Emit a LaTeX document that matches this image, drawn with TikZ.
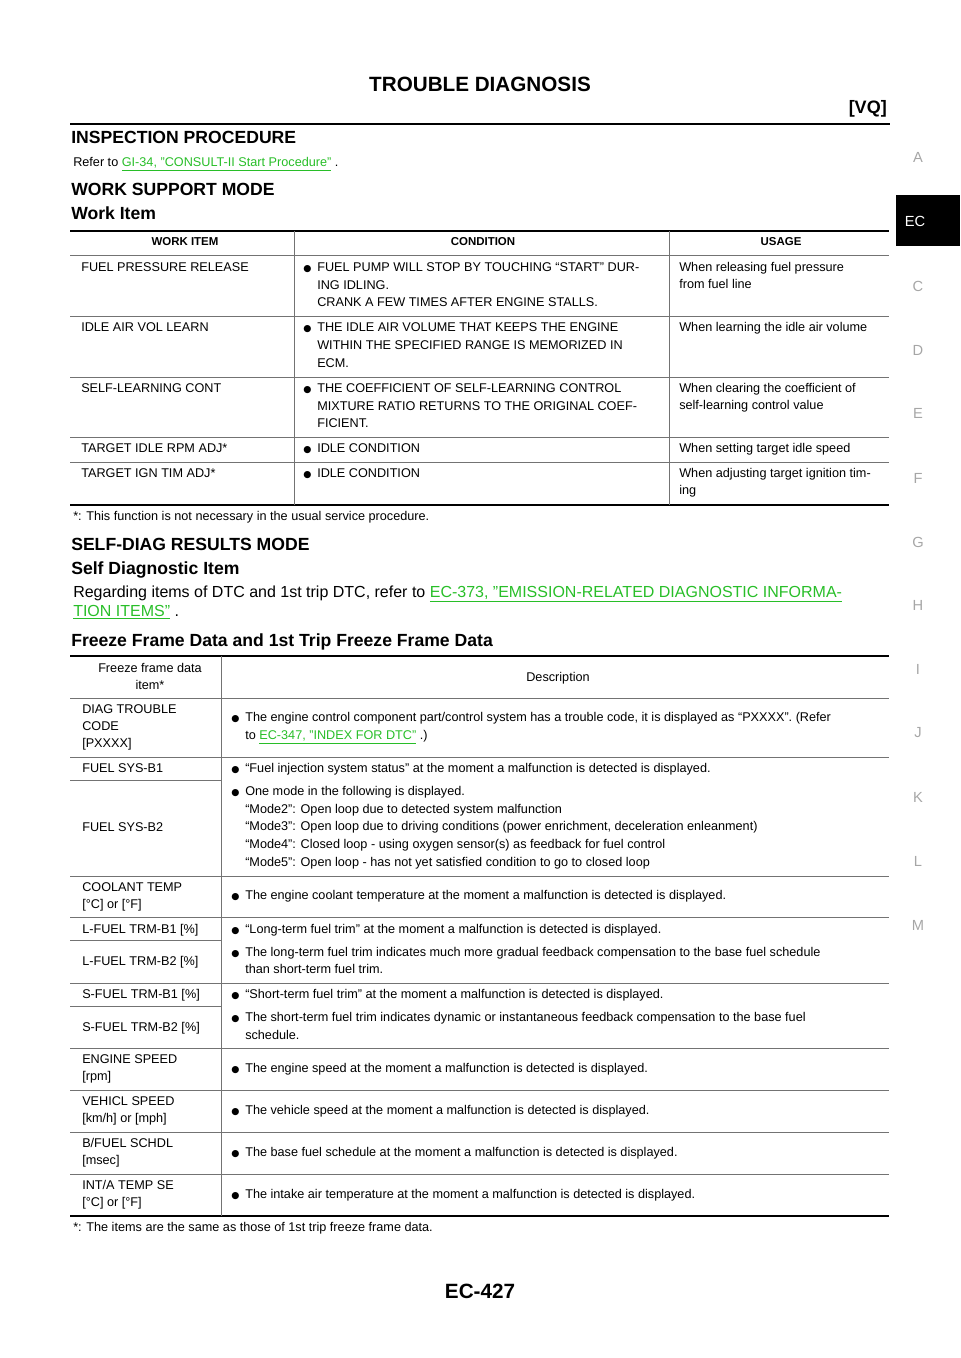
\documentclass[tikz,border=0pt]{standalone}
\usepackage{fontspec}
\setmainfont{Liberation Sans}
\newfontfamily\symfont{DejaVu Sans}
\definecolor{linkgreen}{RGB}{40,190,40}
\definecolor{rulegray}{gray}{0.45}
\tikzset{
	txt/.style={anchor=base west, inner sep=0pt, font=\fontsize{9.5}{12}\selectfont},
	hdr/.style={anchor=base, inner sep=0pt, font=\fontsize{8.6}{11}\selectfont\bfseries},
	sect/.style={anchor=base west, inner sep=0pt, font=\fontsize{13.2}{15}\selectfont\bfseries},
	thin/.style={draw=rulegray, line width=0.5pt},
	thick/.style={draw=black, line width=1.6pt},
	tab/.style={anchor=center, inner sep=0pt, font=\fontsize{11}{13}\selectfont, text=gray!70}
}
\newcommand{\tl}[4]{\node[txt] (#1) at (#2,#3+4.6) {#4};}
\newcommand{\bl}[4]{\node[txt] (#1) at (#2-14,#3+4.6) {{\symfont\fontsize{7}{9}\selectfont ●}};
  \node[txt] (#1t) at (#2,#3+4.6) {#4};}
\newcommand{\lnk}[1]{\textcolor{linkgreen}{\underline{#1}}}

\begin{document}
\begin{tikzpicture}[x=0.75pt,y=-0.75pt]
\useasboundingbox (0,0) rectangle (960,1358);

% page head
\node[anchor=base, inner sep=0pt, font=\fontsize{15.5}{18}\selectfont\bfseries] (title) at (480,92) {TROUBLE DIAGNOSIS};
\node[anchor=base east, inner sep=0pt, font=\fontsize{13.5}{16}\selectfont\bfseries] (vq) at (887,114) {[VQ]};
\draw[line width=2pt] (70,124) -- (890,124);

% side tabs
\fill[black] (896,195) rectangle (960,246);
\node[tab, text=white] (ec) at (915,221) {EC};
\foreach \l/\yy in {A/157,C/286,D/350,E/413,F/478,G/542,H/605,I/669,J/733,K/797,L/861,M/925}
  \node[tab] (tab\l) at (918,\yy) {\l};

% inspection
\node[sect] (insp) at (71,144) {INSPECTION PROCEDURE};
\tl{refer}{73}{162}{Refer to \lnk{GI-34, "CONSULT-II Start Procedure"} .}
\node[sect] (wsm) at (71,196) {WORK SUPPORT MODE};
\node[sect] (wi) at (71,220) {Work Item};

% table 1
\draw[thick] (70,231) -- (889,231);
\draw[thin] (70,255) -- (889,255);
\foreach \yy in {316,377,437,462} \draw[thin] (70,\yy) -- (889,\yy);
\draw[thick] (70,505) -- (889,505);
\draw[thin] (294,231) -- (294,505);
\draw[thin] (669,231) -- (669,505);
\node[hdr] (h1) at (185,246) {WORK ITEM};
\node[hdr] (h2) at (483,246) {CONDITION};
\node[hdr] (h3) at (781,246) {USAGE};

\tl{a1}{81}{267}{FUEL PRESSURE RELEASE}
\bl{b1}{317}{267}{FUEL PUMP WILL STOP BY TOUCHING “START” DUR-}
\tl{b1a}{317}{285}{ING IDLING.}
\tl{b1b}{317}{302}{CRANK A FEW TIMES AFTER ENGINE STALLS.}
\tl{c1}{679}{267}{When releasing fuel pressure}
\tl{c1a}{679}{284}{from fuel line}

\tl{a2}{81}{327}{IDLE AIR VOL LEARN}
\bl{b2}{317}{327}{THE IDLE AIR VOLUME THAT KEEPS THE ENGINE}
\tl{b2a}{317}{345}{WITHIN THE SPECIFIED RANGE IS MEMORIZED IN}
\tl{b2b}{317}{363}{ECM.}
\tl{c2}{679}{327}{When learning the idle air volume}

\tl{a3}{81}{388}{SELF-LEARNING CONT}
\bl{b3}{317}{388}{THE COEFFICIENT OF SELF-LEARNING CONTROL}
\tl{b3a}{317}{406}{MIXTURE RATIO RETURNS TO THE ORIGINAL COEF-}
\tl{b3b}{317}{423}{FICIENT.}
\tl{c3}{679}{388}{When clearing the coefficient of}
\tl{c3a}{679}{405}{self-learning control value}

\tl{a4}{81}{448}{TARGET IDLE RPM ADJ*}
\bl{b4}{317}{448}{IDLE CONDITION}
\tl{c4}{679}{448}{When setting target idle speed}

\tl{a5}{81}{473}{TARGET IGN TIM ADJ*}
\bl{b5}{317}{473}{IDLE CONDITION}
\tl{c5}{679}{473}{When adjusting target ignition tim-}
\tl{c5a}{679}{490}{ing}

\tl{fn1}{73}{516}{*: This function is not necessary in the usual service procedure.}

% self-diag
\node[sect] (sdr) at (71,550) {SELF-DIAG RESULTS MODE};
\node[sect] (sdi) at (71,574) {Self Diagnostic Item};
\node[anchor=base west, inner sep=0pt, font=\fontsize{12}{14}\selectfont] (reg1) at (73,597) {Regarding items of DTC and 1st trip DTC, refer to \lnk{EC-373, "EMISSION-RELATED DIAGNOSTIC INFORMA-}};
\node[anchor=base west, inner sep=0pt, font=\fontsize{12}{14}\selectfont] (reg2) at (73,616) {\lnk{TION ITEMS"} .};
\node[sect] (ffd) at (71,646) {Freeze Frame Data and 1st Trip Freeze Frame Data};

% table 2
\draw[thick] (70,656) -- (889,656);
\foreach \yy in {698,757,876,917,983,1048,1090,1132,1174} \draw[thin] (70,\yy) -- (889,\yy);
\foreach \yy in {780,940,1006} \draw[thin] (70,\yy) -- (221,\yy);
\draw[thick] (70,1216) -- (889,1216);
\draw[thin] (221,656) -- (221,1216);
\node[txt, anchor=base] (fh1) at (150,672.6) {Freeze frame data};
\node[txt, anchor=base] (fh2) at (150,689.6) {item*};
\node[txt, anchor=base] (fh3) at (558,681.6) {Description};

\tl{d1}{82}{709}{DIAG TROUBLE}
\tl{d1a}{82}{726}{CODE}
\tl{d1b}{82}{743}{[PXXXX]}
\bl{e1}{245}{717}{The engine control component part/control system has a trouble code, it is displayed as “PXXXX”. (Refer}
\tl{e1a}{245}{735}{to \lnk{EC-347, "INDEX FOR DTC"} .)}

\tl{d2}{82}{768}{FUEL SYS-B1}
\bl{e2}{245}{768}{“Fuel injection system status” at the moment a malfunction is detected is displayed.}
\tl{d3}{82}{827}{FUEL SYS-B2}
\bl{e3}{245}{791}{One mode in the following is displayed.}
\tl{e3a}{245}{809}{“Mode2”: Open loop due to detected system malfunction}
\tl{e3b}{245}{826}{“Mode3”: Open loop due to driving conditions (power enrichment, deceleration enleanment)}
\tl{e3c}{245}{844}{“Mode4”: Closed loop - using oxygen sensor(s) as feedback for fuel control}
\tl{e3d}{245}{862}{“Mode5”: Open loop - has not yet satisfied condition to go to closed loop}

\tl{d4}{82}{887}{COOLANT TEMP}
\tl{d4a}{82}{904}{[°C] or [°F]}
\bl{e4}{245}{895}{The engine coolant temperature at the moment a malfunction is detected is displayed.}

\tl{d5}{82}{929}{L-FUEL TRM-B1 [\%]}
\bl{e5}{245}{929}{“Long-term fuel trim” at the moment a malfunction is detected is displayed.}
\tl{d6}{82}{961}{L-FUEL TRM-B2 [\%]}
\bl{e6}{245}{952}{The long-term fuel trim indicates much more gradual feedback compensation to the base fuel schedule}
\tl{e6a}{245}{969}{than short-term fuel trim.}

\tl{d7}{82}{994}{S-FUEL TRM-B1 [\%]}
\bl{e7}{245}{994}{“Short-term fuel trim” at the moment a malfunction is detected is displayed.}
\tl{d8}{82}{1027}{S-FUEL TRM-B2 [\%]}
\bl{e8}{245}{1017}{The short-term fuel trim indicates dynamic or instantaneous feedback compensation to the base fuel}
\tl{e8a}{245}{1035}{schedule.}

\tl{d9}{82}{1059}{ENGINE SPEED}
\tl{d9a}{82}{1076}{[rpm]}
\bl{e9}{245}{1068}{The engine speed at the moment a malfunction is detected is displayed.}

\tl{d10}{82}{1101}{VEHICL SPEED}
\tl{d10a}{82}{1118}{[km/h] or [mph]}
\bl{e10}{245}{1110}{The vehicle speed at the moment a malfunction is detected is displayed.}

\tl{d11}{82}{1143}{B/FUEL SCHDL}
\tl{d11a}{82}{1160}{[msec]}
\bl{e11}{245}{1152}{The base fuel schedule at the moment a malfunction is detected is displayed.}

\tl{d12}{82}{1185}{INT/A TEMP SE}
\tl{d12a}{82}{1202}{[°C] or [°F]}
\bl{e12}{245}{1194}{The intake air temperature at the moment a malfunction is detected is displayed.}

\tl{fn2}{73}{1227}{*: The items are the same as those of 1st trip freeze frame data.}

% page number
\node[anchor=base, inner sep=0pt, font=\fontsize{15.5}{18}\selectfont\bfseries] (pg) at (480,1298) {EC-427};
\end{tikzpicture}
\end{document}
